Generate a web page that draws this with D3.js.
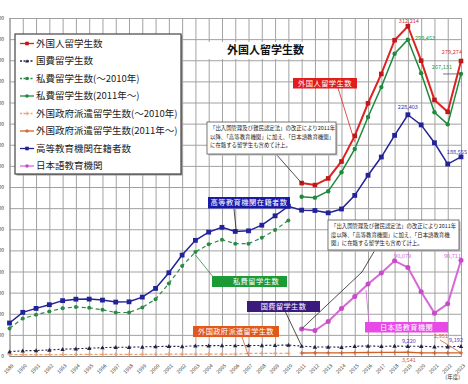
<!DOCTYPE html>
<html><head><meta charset="utf-8">
<script src="https://cdn.jsdelivr.net/npm/d3@7"></script>
<style>body{margin:0;background:#fff}svg{display:block}</style>
</head><body><svg id="c" width="468" height="384"></svg>
<script>
// ---------- data ----------
const years = [1989,1990,1991,1992,1993,1994,1995,1996,1997,1998,1999,2000,2001,2002,2003,2004,2005,2006,2007,2008,2009,2010,2011,2012,2013,2014,2015,2016,2017,2018,2019,2020,2021,2022,2023];
const yearsEarly = [1989,1990,1991,1992,1993,1994,1995,1996,1997,1998,1999,2000,2001,2002,2003,2004,2005,2006,2007,2008,2009,2010];
const yearsLate = [2011,2012,2013,2014,2015,2016,2017,2018,2019,2020,2021,2022,2023];
const yTicks = [0,20000,40000,60000,80000,100000,120000,140000,160000,180000,200000,220000,240000,260000,280000,300000,320000];

const totalStudents = [163697,161848,168145,184155,208379,239287,267042,298980,312214,279597,242444,231146,279274];
const governmentSponsored = [4118,4961,5219,5699,6408,6880,7371,7940,8250,8323,8636,8930,9173,9009,9746,9804,9891,9869,9923,10020,10168,10349,9396,8588,8529,8351,9223,9481,9166,9423,9220,9307,8770,8697,9192];
const privateEarly = [26100,35600,39000,42200,45300,46300,45600,43700,41200,41200,46000,53800,68600,85200,98500,105700,110100,106300,106300,112000,119200,128400];
const privateLate = [150700,149900,156000,174000,196000,226300,254600,286200,299453,267800,230800,219300,267131];
const foreignGovEarly = [1200,1250,1300,1350,1400,1450,1500,1500,1550,1550,1600,1650,1700,1700,1750,1750,1800,1800,2400,2500,2550,2600];
const foreignGovLate = [2840,2900,3050,3000,3150,3300,3400,3350,3541,3000,2900,2950,2951];
const higherEducation = [31251,41347,45066,48561,52405,53787,53847,52921,51047,51298,55755,64011,78812,95550,109508,117302,121812,117927,118498,123829,132720,141774,138075,137756,135519,139185,152062,171122,188384,208901,228403,218783,201877,181741,188555];
const japaneseSchools = [25622,24092,32626,44970,56317,68165,78658,90079,83811,60814,40567,49405,90711];

const legendLabels = ["外国人留学生数","国費留学生数","私費留学生数(～2010年)","私費留学生数(2011年～)","外国政府派遣留学生数(～2010年)","外国政府派遣留学生数(2011年～)","高等教育機関在籍者数","日本語教育機関"];

// ---------- setup ----------
const svg = d3.select("#c");
const FONT = "'Noto Sans CJK JP','Noto Sans',sans-serif";
const x = d3.scaleLinear().domain([1989,2023]).range([9.5,461]);
const y = d3.scaleLinear().domain([0,320000]).range([356,18]);

svg.append("rect").attr("width",468).attr("height",384).attr("fill","#fff");

// grid + axes
const gy = svg.append("g").attr("transform","translate(9.5,0)")
  .call(d3.axisLeft(y).tickValues(yTicks).tickSize(-(461-9.5)).tickPadding(5.5).tickFormat(d3.format(",")));
gy.select(".domain").remove();
gy.selectAll(".tick line").attr("stroke","#a2a2a2").attr("stroke-width",1);
gy.selectAll(".tick text").attr("font-size",5).attr("fill","#333").attr("font-family",FONT);

const gx = svg.append("g").attr("transform","translate(0,356)")
  .call(d3.axisBottom(x).tickValues(years).tickSize(-(356-18)).tickPadding(0).tickFormat(d3.format("d")));
gx.select(".domain").attr("stroke","#888");
gx.selectAll(".tick line").attr("stroke","#a2a2a2").attr("stroke-width",1);
gx.selectAll(".tick text").attr("font-size",5).attr("fill","#333").attr("font-family",FONT)
  .attr("text-anchor","middle").attr("dy",0).attr("y",0)
  .attr("transform","translate(0,14) rotate(-45)");

svg.append("text").attr("x",460).attr("y",379).attr("text-anchor","end")
  .attr("font-size",5.5).attr("font-family",FONT).attr("fill","#333").text("(年度)");

// ---------- series ----------
function mk(xs, vs){ return xs.map((yr,i)=>({yr, v:vs[i]})); }
const line = d3.line().x(d=>x(d.yr)).y(d=>y(d.v));

const series = [
  {data:mk(yearsEarly,foreignGovEarly), color:"#eda070", w:1.2, dash:"3,2", marker:"plus", ms:2},
  {data:mk(yearsLate,foreignGovLate), color:"#d0602a", w:1.3, dash:null, marker:"plus", ms:2},
  {data:mk(years,governmentSponsored), color:"#222244", w:1.1, dash:"2,2", marker:"tri", ms:2.2},
  {data:mk(yearsEarly,privateEarly), color:"#2a8a44", w:1.2, dash:"4,3", marker:"circle", ms:2},
  {data:mk(yearsLate,privateLate), color:"#1f8a3a", w:1.5, dash:null, marker:"circle", ms:2.2},
  {data:mk(years,higherEducation), color:"#222299", w:1.5, dash:null, marker:"square", ms:2.4},
  {data:mk(yearsLate,japaneseSchools), color:"#d866d8", w:2, dash:null, marker:"circle", ms:2.5, mfill:"#c84ac8"},
  {data:mk(yearsLate,totalStudents), color:"#dd2222", w:2, dash:null, marker:"square", ms:2.3, mfill:"#c01818"},
];

function drawMarker(g, m, cx, cy, s, col){
  if(m==="circle") g.append("circle").attr("cx",cx).attr("cy",cy).attr("r",s).attr("fill",col);
  else if(m==="square") g.append("rect").attr("x",cx-s).attr("y",cy-s).attr("width",2*s).attr("height",2*s).attr("fill",col);
  else if(m==="tri") g.append("path").attr("d",`M${cx},${cy-s}L${cx+s},${cy+s*0.8}L${cx-s},${cy+s*0.8}Z`).attr("fill",col);
  else if(m==="plus") g.append("path").attr("d",`M${cx-s},${cy}H${cx+s}M${cx},${cy-s}V${cy+s}`).attr("stroke",col).attr("stroke-width",1);
}

series.forEach(s=>{
  const g = svg.append("g");
  g.append("path").datum(s.data).attr("d",line).attr("fill","none")
    .attr("stroke",s.color).attr("stroke-width",s.w).attr("stroke-dasharray",s.dash);
  s.data.forEach(d=>drawMarker(g,s.marker,x(d.yr),y(d.v),s.ms,s.mfill||s.color));
});

// ---------- annotations ----------
const ann = svg.append("g");
function leader(pts, col){ ann.append("path").attr("d",d3.line()(pts)).attr("fill","none").attr("stroke",col||"#222").attr("stroke-width",0.8); }
function tagBox(x0,y0,w,h,fill,txt,fs,tx){
  ann.append("rect").attr("x",x0).attr("y",y0).attr("width",w).attr("height",h).attr("fill",fill);
  ann.append("text").attr("x",tx!==undefined?tx:x0+w/2).attr("y",y0+h/2).attr("dy","0.36em").attr("text-anchor","middle")
    .attr("font-size",fs).attr("fill","#fff").attr("font-family",FONT).attr("letter-spacing",0.4).text(txt);
}

// title
ann.append("rect").attr("x",208).attr("y",42).attr("width",100).attr("height",17).attr("fill","#fff");
ann.append("text").attr("x",227).attr("y",54).attr("font-size",11).attr("font-weight","bold").attr("font-family",FONT).attr("fill","#111").text("外国人留学生数");

// red label
leader([[338,88],[x(2015),y(totalStudents[4])+6]],"#dd2222");
tagBox(293,78,64,10.5,"#e21b1b","外国人留学生数",7.3);

// note box 1
leader([[276,154],[x(2011),y(totalStudents[0])]]);
function noteBox(x0,y0,w,h,lines){
  ann.append("rect").attr("x",x0+1.5).attr("y",y0+1.5).attr("width",w).attr("height",h).attr("fill","#bbb");
  ann.append("rect").attr("x",x0).attr("y",y0).attr("width",w).attr("height",h).attr("fill","#fff").attr("stroke","#555").attr("stroke-width",0.8);
  lines.forEach((t,i)=>ann.append("text").attr("x",x0+3).attr("y",y0+8+i*8.5).attr("font-size",5.4).attr("font-family",FONT).attr("fill","#222").text(t));
}
noteBox(207,122,129,32,["「出入国管理及び難民認定法」の改正により2011年","以降、「高等教育機関」に加え、「日本語教育機関」","に在籍する留学生も含めて計上。"]);

// note box 2
leader([[375,250],[362,272],[x(2011),y(japaneseSchools[0])]]);
noteBox(328,220,131,30,["「出入国管理及び難民認定法」の改正により2011年","度以降、「高等教育機関」に加え、「日本語教育機","関」に在籍する留学生も含めて計上。"]);

// blue label
leader([[234,209],[x(2006)+1,y(higherEducation[17])]]);
tagBox(208,197,82,11.5,"#1a1aa8","高等教育機関在籍者数",7.3);

// green label
leader([[214,278],[x(2003),y(privateEarly[14])+3]],"#2a8a44");
tagBox(212,276,75,11,"#1c9a36","私費留学生数",7.3,256);

// purple label
leader([[285,311],[x(2011),y(governmentSponsored[22])]]);
tagBox(247,301,73,11,"#3b1a7e","国費留学生数",7.2);

// orange label
leader([[242,337],[x(2007),356]],"#d0602a");
tagBox(193,326,86,11,"#e0581a","外国政府派遣留学生数",7.2);

// magenta label
leader([[369,323],[366,290]],"#d866d8");
tagBox(365,322,83,10.5,"#e84ae8","日本語教育機関",7.2);

// value labels
function vlab(tx,ty,txt,col,anchor){ ann.append("text").attr("x",tx).attr("y",ty).attr("text-anchor",anchor||"middle")
  .attr("font-size",5.6).attr("font-family",FONT).attr("fill",col).text(txt); }
vlab(x(2019)+1,23,"312,214","#dd3333");
vlab(415,40,"299,453","#2a9a44","start");
vlab(462,54,"279,274","#dd3333","end");
vlab(452,69,"267,131","#2a9a44","end");
leader([[443,74],[x(2023),y(privateLate[12])]],"#555");
vlab(x(2019),109,"228,403","#3333aa");
vlab(467,154,"188,555","#3333aa","end");
vlab(x(2018)+8,258,"90,079","#d866d8");
vlab(461,258,"90,711","#d866d8","end");
vlab(x(2019)+1,343,"9,220","#6040b0");
vlab(463,342,"9,192","#6040b0","end");
vlab(448,338,"2,951","#d0602a","end");
leader([[440,340],[x(2023),y(foreignGovLate[12])]],"#d0602a");
vlab(x(2019)+1,362,"3,541","#d0602a");

// ---------- legend ----------
const lg = svg.append("g");
lg.append("rect").attr("x",16.5).attr("y",35.5).attr("width",166).attr("height",140).attr("fill","#999");
lg.append("rect").attr("x",15).attr("y",34).attr("width",166).attr("height",140).attr("fill","#fff").attr("stroke","#444").attr("stroke-width",1.2);
const legendStyle = [series[7],series[2],series[3],series[4],series[0],series[1],series[5],series[6]];
legendLabels.forEach((t,i)=>{
  const cy = 43.5 + i*17.5, s = legendStyle[i];
  lg.append("line").attr("x1",20).attr("x2",34).attr("y1",cy).attr("y2",cy).attr("stroke",s.color).attr("stroke-width",1.3).attr("stroke-dasharray",s.dash?"2,1.5":null);
  drawMarker(lg,s.marker,27,cy,s.marker==="plus"?2:1.8,s.mfill||s.color);
  lg.append("text").attr("x",36).attr("y",cy).attr("dy","0.36em").attr("font-size",9.5).attr("font-family",FONT).attr("fill","#222").text(t);
});
</script></body></html>
